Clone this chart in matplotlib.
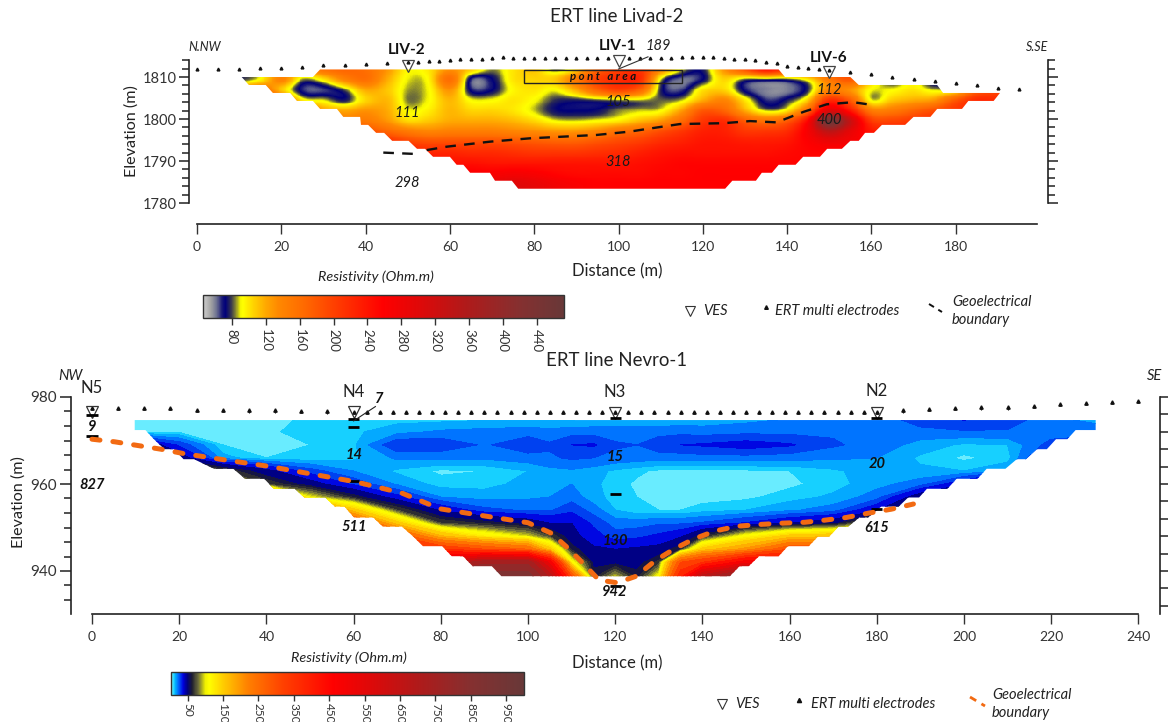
import numpy as np
import matplotlib
matplotlib.use("Agg")
import matplotlib.pyplot as plt
from matplotlib.colors import LinearSegmentedColormap, Normalize
from matplotlib.cm import ScalarMappable
from matplotlib.patches import Polygon, Rectangle
from matplotlib.ticker import FixedLocator, NullFormatter

plt.rcParams['font.family'] = ['Lato', 'DejaVu Sans']

W, H = 1168, 722

# ---------- Livad-2 data ----------
liv_x = [10,15,20,25,30,35,40,45,50,55,60,65,70,75,80,85,90,95,100,105,110,115,120,125,130,135,140,145,150,155,160,165,170,175,180,185,190]
liv_z = [1812,1809.5,1807,1804.5,1802,1799.5,1797,1794.5,1792,1789.5,1787,1784.5]
liv_r1 = [100,100,120,130,160,170,160,130,94,100,130,110,85,100,110,82,105,170,200,210,140,90,76,130,190,250,210,200,200,190,160,100,80,80,100,130,150]
liv_r2 = [78,95,140,85,100,140,160,120,90,96,160,68,72,100,105,110,150,200,220,220,90,62,72,105,82,80,80,98,150,180,115,78,92,70,95,150,170]
liv_r3 = [140,160,110,68,66,82,120,110,86,92,130,70,72,95,100,92,120,170,200,170,78,66,100,105,70,60,60,78,140,130,92,92,100,88,95,170,190]
liv_r4 = [200,200,170,100,90,76,105,115,84,92,115,92,92,100,92,78,76,80,84,86,82,88,120,140,100,68,76,110,220,180,92,110,120,130,180,220,220]
liv_r5 = [200,200,190,170,130,120,130,120,92,98,115,105,105,100,88,74,72,74,84,88,92,125,180,170,120,88,100,170,300,240,150,150,170,190,210,220,220]
liv_r6 = [200,200,200,200,180,150,150,130,105,110,120,120,120,115,105,92,90,94,100,115,130,165,210,220,180,160,180,260,450,330,210,200,210,220,220,220,220]
liv_r7 = [200,200,200,200,200,200,190,170,150,140,145,145,145,140,135,130,130,140,160,170,190,210,230,230,210,210,220,270,340,290,240,230,230,230,230,230,230]
liv_r8 = [220,220,220,220,220,220,220,220,200,190,190,190,190,185,180,175,175,185,195,205,220,230,240,240,235,235,240,260,280,270,250,240,240,240,240,240,240]
liv_r9 = [240,240,240,240,240,240,240,240,235,225,225,220,220,215,210,210,210,215,220,230,240,245,245,245,245,245,250,255,255,250,250,250,250,250,250,250,250]
liv_r10 = [250,250,250,250,250,250,250,250,250,250,245,245,240,240,240,240,240,240,240,245,250,255,255,255,255,255,255,255,255,255,255,255,255,255,255,255,255]
liv_r11 = [265,265,265,265,265,265,265,265,265,265,265,265,265,270,265,255,250,250,250,250,255,255,258,258,258,258,258,258,258,258,258,258,258,258,258,258,258]
liv_r12 = [290,290,290,290,290,290,290,290,290,290,290,290,290,300,290,275,265,258,258,258,258,258,258,258,258,258,258,258,258,258,258,258,258,258,258,258,258]

liv_outline_x = [29.2,138,139.5,155,157,175.6,177,190.5,189,183,181.5,175.6,174,170,168,162.5,160.6,158.5,157,155,153,149.5,147.8,143.8,142,138,136.4,134,132.6,127,125.3,76.2,74.7,70.7,69.5,64.8,63.2,61.6,60,56,54.1,52.2,50.2,46.3,44.4,42.5,40.6,38.9,38.7,34.7,33.2,29.2,27.5,23.7,22.1,18,16.3,12.3,10.6,27.5]
liv_outline_z = [1811.8,1811.8,1810,1810,1808.1,1808.1,1806.2,1806.2,1804.3,1804.3,1802.4,1802.4,1800.5,1800.5,1798.6,1798.6,1796.7,1796.7,1794.8,1794.8,1792.9,1792.9,1791,1791,1789.1,1789.1,1787.2,1787.2,1785.3,1785.3,1783.4,1783.4,1785.3,1785.3,1787.2,1787.2,1789.1,1789.1,1791,1791,1792.9,1792.9,1794.8,1794.8,1796.7,1796.7,1798.6,1798.6,1800.5,1800.5,1802.4,1802.4,1804.3,1804.3,1806.2,1806.2,1808.1,1808.1,1810,1810]

liv_elec_x = [0,5,10,15,20,25,30,35,40,45,50,52.5,55,57.5,60,62.5,65,67.5,70,72.5,75,77.5,80,82.5,85,87.5,90,92.5,95,97.5,102.5,105,107.5,110,112.5,115,117.5,120,122.5,125,127.5,130,132.5,135,137.5,140,142.5,145,147.5,150,155,160,165,170,175,180,185,190,195]
liv_elec_z = [1811.9,1811.9,1811.9,1812.05,1812.2,1812.5,1812.9,1812.9,1813.1,1813.25,1813.5,1813.65,1813.8,1813.8,1814,1814.2,1814.3,1814.3,1814.5,1814.7,1814.45,1814.45,1814.45,1814.45,1814.45,1814.45,1814.45,1814.45,1814.45,1814.45,1814.45,1814.45,1814.45,1814.45,1814.45,1814.7,1814.7,1814.7,1814.7,1814.45,1814.3,1814.3,1814.05,1813.6,1813.25,1812.7,1812.5,1812.1,1811.8,1811.6,1811.1,1810.6,1810,1809.5,1809,1808.65,1808,1807.5,1807.1]
liv_ves_x = [50,100,150]
liv_ves_z = [1812.7,1813.8,1811.2]
liv_bound_x = [54.5,59.2,69.5,79,94.8,102.7,105.9,114.6,124.9,131.2,137.5,143.9,149.4,155.7,160.5]
liv_bound_z = [1792.6,1793.4,1794.6,1795.4,1796.2,1797,1797.5,1798.8,1799,1799.5,1799.2,1801.7,1803.5,1804,1803.3]
liv_bound_left_x = [44.2,51.3]
liv_bound_left_z = [1792,1791.7]
liv_xticks = [0,20,40,60,80,100,120,140,160,180]
liv_yticks = [1780,1790,1800,1810]
liv_minor = [1782,1784,1786,1788,1792,1794,1796,1798,1802,1804,1806,1808,1812,1814]
liv_cb_ticks = [80,120,160,200,240,280,320,360,400,440]

liv_cm_v = [46,55,62,68,72,78,84,90,93,105,120,135,165,200,258,300,356,420,472]
liv_cm_c = ['#cfcfcf','#a4a4a4','#6c7090','#1c1c78','#00007a','#2a2a55','#7e7e33','#f5f500','#ffff00','#ffd400','#ffa800','#ff8800','#ff6a00','#ff4000','#ff0000','#e00808','#b01a1a','#853030','#683838']

# ---------- Nevro-1 data ----------
nev_x = [9.5,20,30,40,50,60,70,80,90,100,105,110,115,120,125,130,135,140,150,160,170,180,190,200,210,220,230.5]
nev_z = [975,972,969,966,963,960,957,954,951,948,945,942,938.5]
nev_r1 = [8,8,8,8,11,12,12,12,13,13,13,13,14,14,14,14,15,15,17,19,21,20,30,33,30,20,17]
nev_r2 = [8,9,8,9,12,13,17,20,21,22,21,22,22,22,23,22,23,22,23,23,24,19,22,24,24,21,22]
nev_r3 = [60,30,10,9,10,13,31,30,24,30,26,32,33,26,25,30,32,33,36,33,26,22,17,13,14,28,32]
nev_r4 = [80,50,16,10,11,13,20,20,20,22,24,26,25,23,22,21,21,22,22,21,20,19,13,9,12,40,60]
nev_r5 = [100,90,70,46,28,19,13,9,10,14,17,18,16,13,11,9,9,9,9,10,13,17,15,14,18,60,80]
nev_r6 = [200,200,150,70,48,30,18,12,12,16,18,19,15,12,9,8,8,8,8,9,12,17,22,40,100,100,100]
nev_r7 = [300,300,300,300,100,60,35,19,17,18,19,22,16,12,10,8,8,8,9,12,15,22,50,100,100,100,100]
nev_r8 = [300,300,300,300,300,150,70,40,27,24,24,30,22,14,11,10,10,12,14,18,22,40,100,100,100,100,100]
nev_r9 = [300,300,300,300,300,300,150,70,60,50,42,42,30,22,22,24,24,26,33,42,50,90,150,150,150,150,150]
nev_r10 = [300,300,300,300,300,300,300,170,120,95,70,46,36,28,30,34,40,60,110,150,160,200,200,200,200,200,200]
nev_r11 = [350,350,350,350,350,350,350,350,300,260,150,60,44,42,44,46,62,150,200,300,300,300,300,300,300,300,300]
nev_r12 = [600,600,600,600,600,600,600,600,750,750,500,110,52,50,50,65,300,350,500,500,500,500,500,500,500,500,500]
nev_r13 = [900,900,900,900,900,900,900,900,900,900,700,320,60,95,60,110,400,700,900,900,900,900,900,900,900,900,900]

nev_outline_x = [9.8,230.2,230.2,225.6,223.7,221.1,219,216.7,214.2,212.1,209.5,205.2,203.1,198.3,196.2,191.5,189.7,187.2,185,181,178,176,173.4,171.2,169.1,166.5,164.4,159.6,157.5,153,150.6,148.5,146.3,93.9,91.7,87.3,85.1,82.5,80.3,75.9,73.7,71.1,66.7,64.5,60.1,57.9,55.7,53.5,48.7,46.5,41.7,39.5,35.1,32.4,28,23.4,21,18.8,16.6,14.2,12.25,9.8]
nev_outline_z = [974.7,974.7,972.4,972.4,970.3,970.3,968,968,965.7,965.7,963.5,963.5,961.2,961.2,958.9,958.9,956.9,956.9,954.8,954.8,952.3,952.3,950.2,950.2,947.9,947.9,945.7,945.7,943.4,943.4,941.1,941.1,938.8,938.8,941.1,941.1,943.4,943.4,945.7,945.7,947.9,950.2,950.2,952.3,952.3,954.8,954.8,956.9,956.9,958.9,958.9,961.2,961.2,963.5,963.5,965.7,965.7,968,968,970.3,972.4,972.4]

nev_elec_x = [0,6,12,18,24,30,36,42,48,54,60,63,66,69,72,75,78,81,84,87,90,93,96,99,102,105,108,111,114,117,120,123,126,129,132,135,138,141,144,147,150,153,156,159,162,165,168,171,174,177,180,186,192,198,204,210,216,222,228,234,240]
nev_elec_z = [977.4,977.4,977.4,977.4,977,977,976.9,976.9,976.8,976.7,976.6,976.6,976.5,976.5,976.5,976.5,976.5,976.5,976.5,976.5,976.5,976.5,976.5,976.5,976.5,976.5,976.5,976.5,976.5,976.5,976.5,976.5,976.5,976.5,976.5,976.5,976.5,976.5,976.5,976.5,976.5,976.5,976.5,976.5,976.5,976.5,976.5,976.5,976.5,976.5,976.5,976.9,977.2,977.4,977.6,977.6,978,978.4,978.7,978.9,979.1]
nev_ves_x = [0,60,120,180]
nev_ves_z = [976.6,976.5,976.4,976.4]
nev_mark_x = [0,0,60,60,60,120,120,120,180,180]
nev_mark_z = [975.9,971,974.9,973,960.7,975.1,957.7,936.6,975.1,954.2]
nev_bound_x = [0,5.2,15.8,21,30.7,40.3,50.9,60.5,71.1,79.8,90.4,100,105.3,108.8,112.3,116.3,120.5,124.8,129.1,133.4,138.1,142.9,148,153.2,158.3,163.5,168.2,173,178.1,183.3,188.4]
nev_bound_z = [970.3,969.7,968,967,965.5,964.1,962.2,960.5,957.9,954.3,952.6,951.1,948.7,945.6,942.1,937.9,937.3,938.8,942.3,945,947.4,949.2,950.3,950.7,951,951.2,951.7,952.3,953.3,954.2,955.4]
nev_xticks = [0,20,40,60,80,100,120,140,160,180,200,220,240]
nev_yticks = [940,960,980]
nev_minor = [933.33,936.67,943.33,946.67,950,953.33,956.67,963.33,966.67,970,973.33,976.67]
nev_right_ticks = [932,936,940,944,948,952,956,960,964,968,972,976,980]
nev_cb_ticks = [50,150,250,350,450,550,650,750,850,950]
nev_levels = [3,10,14,19,25,32,42,55,62,70,78,85,90,95,100,105,112,120,130,140,165,190,220,260,300,350,400,460,520,580,640,700,770,840,920,1000]

nev_cm_v = [3,6.5,12,16.5,22,28.5,37,48.5,62,80,100,110,150,220,320,460,560,700,850,1000]
nev_cm_c = ['#ccffff','#55e8ff','#14cfff','#00a0ff','#0070ff','#0040f0','#0000e0','#00007f','#1c1c30','#70703a','#f0f000','#ffff00','#ffcc00','#ff8000','#ff4000','#ff0000','#e00808','#b01a1a','#853030','#683838']


def make_cmap(name, vals, cols):
    lo, hi = vals[0], vals[-1]
    return LinearSegmentedColormap.from_list(name, [((v - lo) / (hi - lo), c) for v, c in zip(vals, cols)], N=1024), Normalize(lo, hi)


def px_axes(fig, x0, y0, x1, y1, **kw):
    return fig.add_axes([x0 / W, 1 - y1 / H, (x1 - x0) / W, (y1 - y0) / H], **kw)


def smooth_axis(a, k):
    """Catmull-Rom rendering of a grid along its first axis, for display only."""
    n = a.shape[0]
    t = np.linspace(0, n - 1, (n - 1) * k + 1)
    i = np.clip(t.astype(int), 0, n - 2)
    f = (t - i).reshape((-1,) + (1,) * (a.ndim - 1))
    p0, p1, p2, p3 = a[np.clip(i - 1, 0, n - 1)], a[i], a[i + 1], a[np.clip(i + 2, 0, n - 1)]
    return 0.5 * (2 * p1 + (p2 - p0) * f + (2 * p0 - 5 * p1 + 4 * p2 - p3) * f ** 2 + (3 * p1 - p0 - 3 * p2 + p3) * f ** 3)


fig = plt.figure(figsize=(W / 100, H / 100), dpi=100, facecolor='white')
AXC = '#222222'
TICKC = '#333333'

# ---------- Panel 1 ----------
ax1 = px_axes(fig, 189, 40, 1048, 224)
ax1.set_xlim((189 - 197) / 4.215, (1048 - 197) / 4.215)
ax1.set_ylim(1810 - (224 - 77) / 4.2, 1810 + 37 / 4.2)
cm1, nm1 = make_cmap('liv', liv_cm_v, liv_cm_c)
grid1 = np.array([liv_r1, liv_r2, liv_r3, liv_r4, liv_r5, liv_r6, liv_r7, liv_r8, liv_r9, liv_r10, liv_r11, liv_r12], float)
fine1 = smooth_axis(smooth_axis(np.pad(grid1, 1, mode='edge'), 12).T, 24).T
xl, yl = ax1.get_xlim(), ax1.get_ylim()
im = ax1.imshow(fine1, cmap=cm1, norm=nm1, interpolation='nearest', aspect='auto', origin='upper',
                extent=(liv_x[0] - 5, liv_x[-1] + 5, liv_z[-1] - 2.5, liv_z[0] + 2.5), zorder=1)
clip1 = Polygon(np.column_stack([liv_outline_x, liv_outline_z]), closed=True, fc='none', ec='none', transform=ax1.transData)
ax1.add_patch(clip1)
im.set_clip_path(clip1)
ax1.set_xlim(xl); ax1.set_ylim(yl)
ax1.add_patch(Rectangle((77.6, 1808.6), 37.4, 3.1, fc='none', ec='#222222', lw=1, zorder=3))
ax1.plot(liv_bound_x, liv_bound_z, color='#111111', lw=1.7, dashes=(4.5, 3.5), zorder=4)
ax1.plot(liv_bound_left_x, liv_bound_left_z, color='#111111', lw=1.7, dashes=(4.5, 3.5), zorder=4)
ax1.plot(liv_elec_x, liv_elec_z, ls='none', marker='^', ms=2, color='#111111', zorder=5)
ax1.plot(liv_ves_x, liv_ves_z, ls='none', marker='v', ms=9, mfc='none', mec='#444444', mew=0.9, zorder=5)
ax1.plot([100, 107], [1811.9, 1814.8], color='#333333', lw=0.8, zorder=5)

ax1.set_xticks(liv_xticks)
ax1.set_yticks(liv_yticks)
ax1.yaxis.set_minor_locator(FixedLocator(liv_minor))
ax1.tick_params(axis='x', length=7, width=1, color=TICKC, labelsize=10, labelcolor='#333333', pad=5)
ax1.tick_params(axis='y', which='major', length=7, width=1.2, color=TICKC, labelsize=10.5, labelcolor='#333333', pad=2)
ax1.tick_params(axis='y', which='minor', length=5, width=1.2, color=TICKC)
ax1.patch.set_alpha(0)
ax1.spines['top'].set_visible(False)
ax1.spines['left'].set_bounds(1780, 1814)
ax1.spines['right'].set_bounds(1780, 1814)
ax1.spines['bottom'].set_bounds(0, 199.3)
for s in ax1.spines.values():
    s.set_color(AXC); s.set_linewidth(1.2)
ax1.tick_params(axis='y', which='both', right=True)

# ---------- Panel 2 ----------
ax2 = px_axes(fig, 70.8, 380, 1160, 614)
ax2.set_xlim((70.8 - 92) / 4.36, (1160 - 92) / 4.36)
ax2.set_ylim(980 - (614 - 397) / 4.35, 980 + 17 / 4.35)
cm2, nm2 = make_cmap('nev', nev_cm_v, nev_cm_c)
grid2 = np.array([nev_r1, nev_r2, nev_r3, nev_r4, nev_r5, nev_r6, nev_r7, nev_r8, nev_r9, nev_r10, nev_r11, nev_r12, nev_r13], float)
cs = ax2.contourf(nev_x, nev_z, grid2, levels=nev_levels, cmap=cm2, norm=nm2, extend='both', zorder=1)
clip2 = Polygon(np.column_stack([nev_outline_x, nev_outline_z]), closed=True, fc='none', ec='none', transform=ax2.transData)
ax2.add_patch(clip2)
cs.set_clip_path(clip2)
ax2.plot(nev_elec_x, nev_elec_z, ls='none', marker='^', ms=2.4, color='#111111', zorder=5)
ax2.vlines(nev_elec_x, np.array(nev_elec_z) - 0.5, nev_elec_z, color='#111111', lw=0.8, zorder=5)
ax2.plot(nev_ves_x, nev_ves_z, ls='none', marker='v', ms=9, mfc='none', mec='#333333', mew=0.9, zorder=5)
ax2.hlines(nev_mark_z, np.array(nev_mark_x) - 1.3, np.array(nev_mark_x) + 1.3, color='black', lw=2, zorder=5)
ax2.plot([60, 65], [974.5, 977.8], color='#222222', lw=0.8, zorder=5)
ax2.plot(nev_bound_x, nev_bound_z, color='#f26a12', lw=3.6, dashes=(1.6, 2.6), dash_capstyle='round', zorder=6)

ax2.set_xticks(nev_xticks)
ax2.set_yticks(nev_yticks)
ax2.yaxis.set_minor_locator(FixedLocator(nev_minor))
ax2.tick_params(axis='x', length=7, width=1, color=TICKC, labelsize=10, labelcolor='#333333', pad=5)
ax2.tick_params(axis='y', which='major', length=8, width=1.2, color=TICKC, labelsize=11, labelcolor='#333333', pad=2)
ax2.tick_params(axis='y', which='minor', length=5, width=1.2, color=TICKC)
ax2.patch.set_alpha(0)
ax2.spines['top'].set_visible(False)
ax2.spines['right'].set_visible(False)
ax2.spines['left'].set_bounds(ax2.get_ylim()[0], 980)
ax2.spines['bottom'].set_bounds(0, 240)
for s in ax2.spines.values():
    s.set_color(AXC); s.set_linewidth(1.2)
ax2r = ax2.twinx()
ax2r.set_ylim(ax2.get_ylim())
ax2r.set_yticks(nev_right_ticks)
ax2r.yaxis.set_major_formatter(NullFormatter())
ax2r.tick_params(axis='y', length=6, width=1.2, color=TICKC)
for k in ('top', 'left', 'bottom'):
    ax2r.spines[k].set_visible(False)
ax2r.spines['right'].set_bounds(ax2.get_ylim()[0], 980)
ax2r.spines['right'].set_color(AXC)
ax2r.spines['right'].set_linewidth(1.2)

# ---------- Colour bars ----------
for (box, cmap, norm, ticks, lab, ln, pd) in (((203, 295, 564, 318), cm1, nm1, liv_cb_ticks, 9.5, 5, 3),
                                              ((171, 672, 524, 695), cm2, nm2, nev_cb_ticks, 8.5, 4, 2)):
    cax = px_axes(fig, *box)
    cb = fig.colorbar(ScalarMappable(norm=norm, cmap=cmap), cax=cax, orientation='horizontal', ticks=ticks)
    cb.ax.tick_params(length=ln, width=1, color='#333333', labelsize=lab, labelcolor='#333333', pad=pd)
    for t in cb.ax.get_xticklabels():
        t.set_rotation(-90)
    cb.outline.set_edgecolor('#333333')
    cb.outline.set_linewidth(1)

# ---------- Overlay for labels and legends (pixel coordinates) ----------
ov = fig.add_axes([0, 0, 1, 1], zorder=10)
ov.set_xlim(0, W); ov.set_ylim(H, 0); ov.axis('off')


def txt(x, y, s, size=10, style='normal', weight='normal', color='#222222', ha='center', rot=0):
    ov.text(x, y, s, fontsize=size, fontstyle=style, fontweight=weight, color=color, ha=ha, va='center', rotation=rot)


txt(617, 17, 'ERT line Livad-2', 13.4)
txt(617, 361, 'ERT line Nevro-1', 13.4)
txt(205, 47, 'N.NW', 9, 'italic')
txt(1037, 47, 'S.SE', 9, 'italic')
txt(70, 376, 'NW', 10.5, 'italic')
txt(1155, 376, 'SE', 10.5, 'italic')
txt(407, 50, 'LIV-2', 11, weight='bold', color='#111111')
txt(618, 46, 'LIV-1', 11, weight='bold', color='#111111')
txt(829, 58, 'LIV-6', 11, weight='bold', color='#111111')
txt(658, 46, '189', 10.5, 'italic')
txt(603, 76, 'p o n t   a r e a', 8.2, 'italic', 'bold', '#111111')
for x, y, s in ((407, 113, '111'), (618, 102, '105'), (829, 90, '112'), (829, 120, '400'), (618, 162, '318'), (407, 183, '298')):
    txt(x, y, s, 10.5, 'italic', color='#1a1a1a')
for x, y, s in ((92, 388, 'N5'), (354, 392, 'N4'), (615, 392, 'N3'), (877, 391, 'N2')):
    txt(x, y, s, 12)
for x, y, s in ((92, 427, '9'), (379, 399, '7'), (354, 455, '14'), (92, 485, '827'), (354, 527, '511'),
                (615, 457, '15'), (615, 541, '130'), (615, 592, '942'), (877, 464, '20'), (877, 528, '615')):
    txt(x, y, s, 10.5, 'italic', 'bold', '#111111')
txt(132, 131, 'Elevation (m)', 11.6, rot=90)
txt(617, 271, 'Distance (m)', 12)
txt(19, 502, 'Elevation (m)', 11.6, rot=90)
txt(617, 663, 'Distance (m)', 12)
txt(376, 277, 'Resistivity (Ohm.m)', 10.4, 'italic')
txt(349, 658, 'Resistivity (Ohm.m)', 10.4, 'italic')

# Legend, Livad-2
ov.plot([690], [311], marker='v', ms=7.5, mfc='none', mec='#333333', mew=0.8, ls='none')
txt(715, 311, 'VES', 10.5, 'italic')
ov.plot([766], [307], marker='^', ms=2.6, color='#111111', ls='none')
txt(837, 311, 'ERT multi electrodes', 10.5, 'italic')
ov.plot([929, 942], [304, 312], color='#111111', lw=1.4, dashes=(3, 2.6))
txt(952, 302, 'Geoelectrical', 10.5, 'italic', ha='left')
txt(952, 320, 'boundary', 10.5, 'italic', ha='left')
# Legend, Nevro-1
ov.plot([722], [704], marker='v', ms=7.5, mfc='none', mec='#333333', mew=0.8, ls='none')
txt(747, 704, 'VES', 10.5, 'italic')
ov.plot([799], [700], marker='^', ms=3, color='#111111', ls='none')
txt(873, 704, 'ERT multi electrodes', 10.5, 'italic')
ov.plot([970, 985], [697, 706], color='#f26a12', lw=2, dashes=(2.6, 2.2))
txt(992, 695, 'Geoelectrical', 10.5, 'italic', ha='left')
txt(992, 713, 'boundary', 10.5, 'italic', ha='left')

fig.savefig('out.png', dpi=100)
